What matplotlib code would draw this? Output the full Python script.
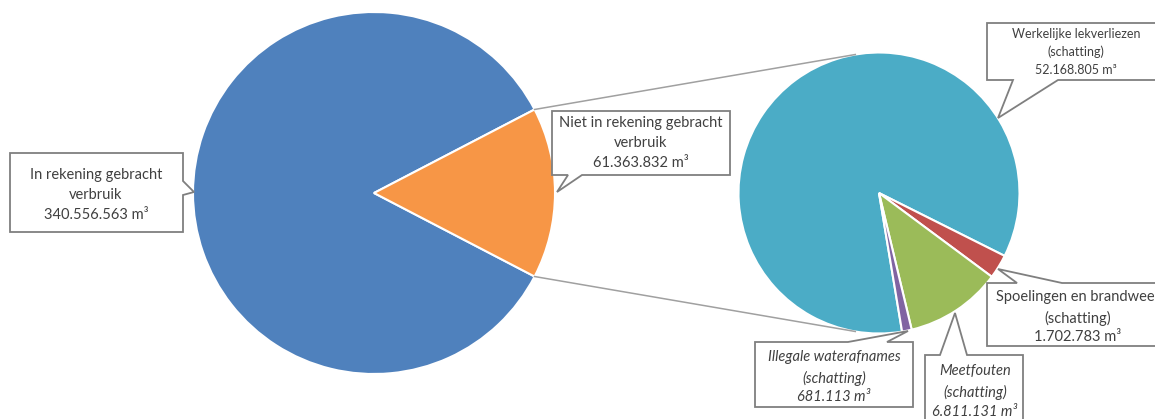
import matplotlib
matplotlib.use("Agg")
import matplotlib.pyplot as plt
from matplotlib.patches import Polygon
import numpy as np

# ---------------- data ----------------
main_labels = ["In rekening gebracht\nverbruik", "Niet in rekening gebracht\nverbruik"]
main_values = [340556563, 61363832]
main_colors = ["#4F81BD", "#F79646"]

sub_labels = ["Werkelijke lekverliezen\n(schatting)",
              "Spoelingen en brandweer\n(schatting)",
              "Meetfouten\n(schatting)",
              "Illegale waterafnames\n(schatting)"]
sub_values = [52168805, 1702783, 6811131, 681113]
sub_colors = ["#4BACC6", "#C0504D", "#9BBB59", "#8064A2"]


def fmt(v):
    return f"{v:,}".replace(",", ".") + " m³"


W, H = 1155, 419
plt.rcParams['font.family'] = ['Lato', 'DejaVu Sans']
fig = plt.figure(figsize=(W / 100, H / 100), dpi=100)
ax = fig.add_axes([0, 0, 1, 1])

def Y(y):
    return H - y

# main pie
c1 = (374, Y(193)); r1 = 181
frac = main_values[1] / sum(main_values)
half = 180 * frac
ax.pie(main_values, colors=main_colors, startangle=half, counterclock=True,
       center=c1, radius=r1, frame=True,
       wedgeprops=dict(edgecolor="white", linewidth=1.5))

# sub pie
c2 = (879, Y(193)); r2 = 140.5
sub_frac0 = sub_values[0] / sum(sub_values)
start2 = -26.6 + 360 * sub_frac0
ax.pie(sub_values, colors=sub_colors, startangle=start2, counterclock=False,
       center=c2, radius=r2, frame=True,
       wedgeprops=dict(edgecolor="white", linewidth=1.5))

# connector lines (tangent)
for sgn in (1, -1):
    a = np.deg2rad(sgn * half)
    P = np.array([c1[0] + r1 * np.cos(a), c1[1] + r1 * np.sin(a)])
    C = np.array(c2)
    d = P - C
    dist = np.hypot(*d)
    th = np.arctan2(d[1], d[0])
    al = np.arccos(r2 / dist)
    t = th - sgn * al
    T = C + r2 * np.array([np.cos(t), np.sin(t)])
    ax.plot([P[0], T[0]], [P[1], T[1]], color="#A0A0A0", lw=1.1, zorder=1)

# callouts
box_ec = "#7F7F7F"
txt_c = "#404040"

def callout(verts):
    pts = [(x, Y(y)) for x, y in verts]
    ax.add_patch(Polygon(pts, closed=True, facecolor="white", edgecolor=box_ec,
                         lw=1.3, zorder=5))

def lines(cx, ys, texts, size=10.5, style="normal"):
    for y, t in zip(ys, texts):
        ax.text(cx, Y(y), t, ha="center", va="center", fontsize=size,
                color=txt_c, style=style, zorder=6)

callout([(10, 153), (183, 153), (183, 181), (194, 192), (183, 195), (183, 232), (10, 232)])
lines(96, [175, 195, 215], main_labels[0].split("\n") + [fmt(main_values[0])])

callout([(552, 111), (730, 111), (730, 175), (582, 175), (557, 192), (568, 175), (552, 175)])
lines(641, [123, 143, 163], main_labels[1].split("\n") + [fmt(main_values[1])])

callout([(987, 23), (1165, 23), (1165, 80), (1058, 80), (998, 118), (1013, 80), (987, 80)])
lines(1076, [34, 52, 70], sub_labels[0].split("\n") + [fmt(sub_values[0])], size=9)

callout([(987, 283), (1017, 283), (998, 269), (1062, 283), (1170, 283), (1170, 346), (987, 346)])
lines(1078, [297, 318, 337], sub_labels[1].split("\n") + [fmt(sub_values[1])])

callout([(925, 355), (940, 355), (955, 313), (967, 355), (1023, 355), (1023, 440), (925, 440)])
lines(975, [371, 392, 412], sub_labels[2].split("\n") + [fmt(sub_values[2])], style="italic")

callout([(755, 342), (848, 342), (908, 331), (887, 342), (913, 342), (913, 407), (755, 407)])
lines(834, [357, 378, 397], sub_labels[3].split("\n") + [fmt(sub_values[3])], style="italic")

ax.set_xlim(0, W)
ax.set_ylim(0, H)
ax.set_aspect("equal")
ax.axis("off")
fig.savefig("out.png", dpi=100)
